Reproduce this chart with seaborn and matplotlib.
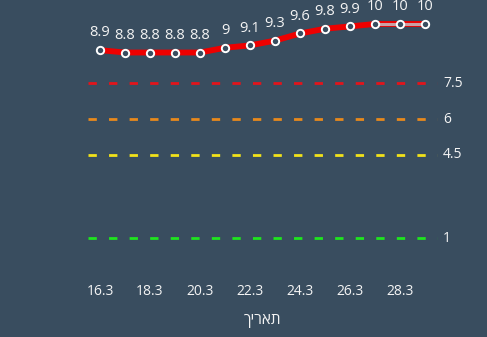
import matplotlib
matplotlib.use("Agg")
import matplotlib.pyplot as plt
import pandas as pd
import seaborn as sns

dates = ["16.3", "17.3", "18.3", "19.3", "20.3", "21.3", "22.3", "23.3",
         "24.3", "25.3", "26.3", "27.3", "28.3", "29.3"]
values = [8.9, 8.8, 8.8, 8.8, 8.8, 9, 9.1, 9.3, 9.6, 9.8, 9.9, 10, 10, 10]
thresholds = [7.5, 6, 4.5, 1]
threshold_colors = ["#e3141b", "#e8891c", "#f2e21a", "#1fe51f"]
x_title = "תאריך"

sns.set_theme(style="white")
plt.rcParams["font.family"] = ["Open Sans", "DejaVu Sans"]

bg = "#394d5f"
txt = "#f4f4f4"
fig = plt.figure(figsize=(4.87, 3.37), dpi=100, facecolor=bg)
ax = fig.add_axes([87.5 / 487, (337 - 278) / 337, 350 / 487, 278 / 337])
ax.set_facecolor(bg)

df = pd.DataFrame({"idx": range(len(dates)), "date": dates, "value": values})

for t, c in zip(thresholds, threshold_colors):
    ax.axhline(t, color=c, lw=2.0, ls=(0, (3.0, 4.4)), zorder=1)
    ax.text(13.72, t, f"{t:g}", color=txt, fontsize=10, ha="left", va="center")

sns.lineplot(data=df, x="idx", y="value", color="#ee0000", lw=4.2,
             ax=ax, zorder=3, legend=False)
sns.lineplot(data=df.iloc[11:], x="idx", y="value", color="#c9a0a4", lw=2.2,
             ax=ax, zorder=4, legend=False)
ax.scatter(df["idx"], df["value"], s=28, facecolor=bg, edgecolor="white",
           linewidth=1.4, zorder=5)

for i, v in zip(df["idx"], df["value"]):
    ax.annotate(f"{v:g}", (i, v), xytext=(0, 7), textcoords="offset points",
                ha="center", va="bottom", fontsize=10.5, color=txt)

ax.set_xlim(-0.5, 13.5)
ax.set_ylim(1 - 40 / 23.8, 10 + 24 / 23.8)
ticks = list(range(0, len(dates), 2))
ax.set_xticks(ticks)
ax.set_xticklabels([dates[i] for i in ticks], color=txt, fontsize=10)
ax.tick_params(axis="x", length=0, pad=4)
ax.set_yticks([])
ax.set_xlabel("")
ax.set_ylabel("")
for s in ax.spines.values():
    s.set_visible(False)

fig.text(262.5 / 487, 1 - 320 / 337, x_title[::-1], color=txt, fontsize=11,
         ha="center", va="center")

fig.savefig("out.png", dpi=100, facecolor=bg)
